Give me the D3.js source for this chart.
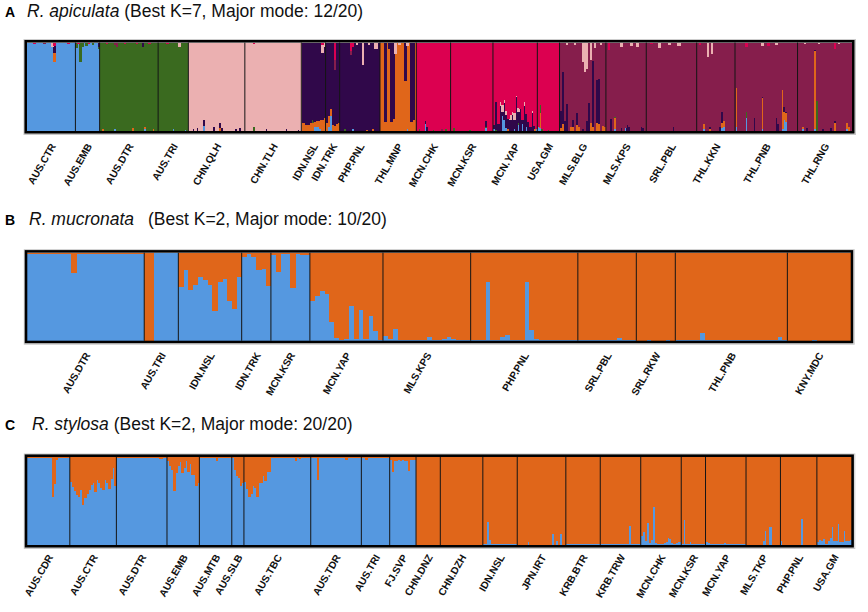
<!DOCTYPE html>
<html>
<head>
<meta charset="utf-8">
<script src="https://cdn.jsdelivr.net/npm/d3@7"></script>
<style>
  body { margin: 0; background: #fff; }
  text { font-family: "Liberation Sans", Arial, Helvetica, sans-serif; }
</style>
</head>
<body>
<div id="chart"></div>
<script>
// ---------------------------------------------------------------------------
// DATA
// ---------------------------------------------------------------------------

// Panel A : R. apiculata, K = 7 (stacking order bottom -> top)
const clustersA = ["blue", "orange", "green", "purple", "maroon", "pink", "red"];
const popsA = ["AUS.CTR", "AUS.EMB", "AUS.DTR", "AUS.TRI", "CHN.QLH", "CHN.TLH",
  "IDN.NSL", "IDN.TRK", "PHP.PNL", "THL.MNP", "MCN.CHK", "MCN.KSR", "MCN.YAP",
  "USA.GM", "MLS.BLG", "MLS.KPS", "SRL.PBL", "THL.KKN", "THL.PNB", "THL.RNG"];
const sizesA = [24, 12, 29, 15, 28, 28, 12, 7, 20, 18, 17, 21, 22, 11, 23, 20, 25, 19, 31, 27];
const baseA = ["blue", "blue", "green", "green", "pink", "pink", "purple", "purple",
  "purple", "orange", "red", "red", "red", "red", "maroon", "maroon", "maroon",
  "maroon", "maroon", "maroon"];
// admixture: [population, individual, cluster, fraction]
const mixA = [
  ["AUS.CTR", 3, "red", 0.02], ["AUS.CTR", 8, "maroon", 0.02], ["AUS.CTR", 12, "pink", 0.05],
  ["AUS.CTR", 13, "orange", 0.10], ["AUS.CTR", 13, "purple", 0.08], ["AUS.CTR", 13, "red", 0.04],
  ["AUS.CTR", 20, "red", 0.02],
  ["AUS.EMB", 0, "green", 0.06], ["AUS.EMB", 1, "red", 0.02], ["AUS.EMB", 2, "green", 0.22],
  ["AUS.EMB", 3, "green", 0.05], ["AUS.EMB", 5, "green", 0.04], ["AUS.EMB", 6, "red", 0.02],
  ["AUS.EMB", 8, "green", 0.03], ["AUS.EMB", 11, "purple", 0.05], ["AUS.EMB", 11, "green", 0.02],
  ["AUS.DTR", 1, "orange", 0.02], ["AUS.DTR", 3, "red", 0.02], ["AUS.DTR", 7, "maroon", 0.03],
  ["AUS.DTR", 7, "blue", 0.02], ["AUS.DTR", 8, "maroon", 0.05], ["AUS.DTR", 12, "red", 0.02],
  ["AUS.DTR", 16, "orange", 0.03], ["AUS.DTR", 18, "red", 0.02], ["AUS.DTR", 21, "purple", 0.05],
  ["AUS.DTR", 22, "blue", 0.02], ["AUS.DTR", 22, "orange", 0.03], ["AUS.DTR", 24, "red", 0.02],
  ["AUS.DTR", 26, "orange", 0.02],
  ["AUS.TRI", 4, "red", 0.02], ["AUS.TRI", 7, "blue", 0.02], ["AUS.TRI", 10, "pink", 0.05],
  ["AUS.TRI", 13, "blue", 0.015],
  ["CHN.QLH", 2, "purple", 0.02], ["CHN.QLH", 4, "purple", 0.03], ["CHN.QLH", 7, "blue", 0.06],
  ["CHN.QLH", 7, "purple", 0.06], ["CHN.QLH", 12, "purple", 0.05], ["CHN.QLH", 15, "purple", 0.06],
  ["CHN.QLH", 15, "orange", 0.03], ["CHN.QLH", 16, "purple", 0.03], ["CHN.QLH", 23, "purple", 0.02],
  ["CHN.QLH", 25, "purple", 0.03],
  ["CHN.TLH", 4, "green", 0.04], ["CHN.TLH", 4, "red", 0.02], ["CHN.TLH", 10, "purple", 0.02],
  ["CHN.TLH", 20, "purple", 0.02], ["CHN.TLH", 26, "purple", 0.015],
  ["IDN.NSL", 0, "orange", 0.09], ["IDN.NSL", 1, "orange", 0.09], ["IDN.NSL", 2, "orange", 0.065],
  ["IDN.NSL", 3, "orange", 0.065], ["IDN.NSL", 4, "orange", 0.09], ["IDN.NSL", 5, "orange", 0.09],
  ["IDN.NSL", 5, "green", 0.03], ["IDN.NSL", 6, "orange", 0.05], ["IDN.NSL", 6, "blue", 0.05],
  ["IDN.NSL", 7, "orange", 0.06], ["IDN.NSL", 7, "blue", 0.05], ["IDN.NSL", 8, "orange", 0.07],
  ["IDN.NSL", 8, "blue", 0.04], ["IDN.NSL", 9, "orange", 0.10], ["IDN.NSL", 9, "blue", 0.02],
  ["IDN.NSL", 10, "orange", 0.12], ["IDN.NSL", 10, "pink", 0.09], ["IDN.NSL", 10, "red", 0.03],
  ["IDN.NSL", 11, "orange", 0.15], ["IDN.NSL", 11, "pink", 0.05],
  ["IDN.TRK", 0, "orange", 0.09], ["IDN.TRK", 1, "orange", 0.12], ["IDN.TRK", 1, "blue", 0.05],
  ["IDN.TRK", 2, "blue", 0.17], ["IDN.TRK", 2, "orange", 0.08], ["IDN.TRK", 3, "orange", 0.07],
  ["IDN.TRK", 4, "orange", 0.06], ["IDN.TRK", 4, "maroon", 0.11], ["IDN.TRK", 4, "red", 0.20],
  ["IDN.TRK", 5, "orange", 0.08], ["IDN.TRK", 6, "orange", 0.09],
  ["PHP.PNL", 2, "green", 0.02], ["PHP.PNL", 5, "red", 0.10], ["PHP.PNL", 5, "maroon", 0.04],
  ["PHP.PNL", 6, "red", 0.05], ["PHP.PNL", 6, "blue", 0.02], ["PHP.PNL", 8, "pink", 0.03],
  ["PHP.PNL", 11, "pink", 0.25], ["PHP.PNL", 13, "orange", 0.015], ["PHP.PNL", 14, "pink", 0.03],
  ["PHP.PNL", 16, "orange", 0.02], ["PHP.PNL", 17, "pink", 0.07], ["PHP.PNL", 18, "pink", 0.07],
  ["THL.MNP", 2, "purple", 0.90], ["THL.MNP", 4, "purple", 0.07], ["THL.MNP", 5, "purple", 0.90],
  ["THL.MNP", 6, "purple", 0.86], ["THL.MNP", 7, "pink", 0.13], ["THL.MNP", 9, "pink", 0.03],
  ["THL.MNP", 12, "purple", 0.43], ["THL.MNP", 13, "pink", 0.04], ["THL.MNP", 13, "blue", 0.02],
  ["THL.MNP", 15, "purple", 0.90], ["THL.MNP", 16, "purple", 0.88],
  ["MCN.CHK", 1, "green", 0.02], ["MCN.CHK", 4, "blue", 0.08], ["MCN.CHK", 4, "purple", 0.03],
  ["MCN.CHK", 5, "purple", 0.04], ["MCN.CHK", 8, "green", 0.015], ["MCN.CHK", 12, "maroon", 0.02],
  ["MCN.CHK", 14, "green", 0.02],
  ["MCN.KSR", 1, "green", 0.03], ["MCN.KSR", 9, "green", 0.01], ["MCN.KSR", 17, "blue", 0.03],
  ["MCN.KSR", 17, "green", 0.02], ["MCN.KSR", 17, "purple", 0.06],
  ["MCN.YAP", 0, "blue", 0.02], ["MCN.YAP", 0, "purple", 0.05], ["MCN.YAP", 1, "purple", 0.32],
  ["MCN.YAP", 1, "green", 0.01], ["MCN.YAP", 2, "purple", 0.08], ["MCN.YAP", 3, "purple", 0.28],
  ["MCN.YAP", 3, "pink", 0.05], ["MCN.YAP", 4, "blue", 0.17], ["MCN.YAP", 4, "purple", 0.05],
  ["MCN.YAP", 4, "pink", 0.07], ["MCN.YAP", 5, "blue", 0.12], ["MCN.YAP", 5, "purple", 0.20],
  ["MCN.YAP", 5, "pink", 0.03], ["MCN.YAP", 6, "blue", 0.03], ["MCN.YAP", 6, "purple", 0.15],
  ["MCN.YAP", 6, "pink", 0.05], ["MCN.YAP", 7, "orange", 0.02], ["MCN.YAP", 7, "purple", 0.12],
  ["MCN.YAP", 8, "purple", 0.12], ["MCN.YAP", 8, "pink", 0.06], ["MCN.YAP", 9, "purple", 0.18],
  ["MCN.YAP", 9, "pink", 0.04], ["MCN.YAP", 10, "blue", 0.02], ["MCN.YAP", 10, "purple", 0.10],
  ["MCN.YAP", 10, "pink", 0.08], ["MCN.YAP", 11, "purple", 0.38], ["MCN.YAP", 11, "pink", 0.02],
  ["MCN.YAP", 12, "blue", 0.07], ["MCN.YAP", 12, "green", 0.02], ["MCN.YAP", 12, "purple", 0.12],
  ["MCN.YAP", 12, "pink", 0.05], ["MCN.YAP", 13, "purple", 0.25], ["MCN.YAP", 14, "blue", 0.08],
  ["MCN.YAP", 14, "purple", 0.05], ["MCN.YAP", 15, "purple", 0.28], ["MCN.YAP", 15, "pink", 0.05],
  ["MCN.YAP", 16, "blue", 0.05], ["MCN.YAP", 16, "purple", 0.14], ["MCN.YAP", 17, "purple", 0.10],
  ["MCN.YAP", 18, "purple", 0.05], ["MCN.YAP", 19, "purple", 0.20], ["MCN.YAP", 19, "pink", 0.03],
  ["MCN.YAP", 20, "orange", 0.02], ["MCN.YAP", 20, "purple", 0.04], ["MCN.YAP", 21, "blue", 0.02],
  ["USA.GM", 0, "blue", 0.04], ["USA.GM", 1, "blue", 0.03], ["USA.GM", 1, "orange", 0.17],
  ["USA.GM", 1, "green", 0.09], ["USA.GM", 2, "green", 0.02], ["USA.GM", 5, "green", 0.01],
  ["MLS.BLG", 0, "orange", 0.03], ["MLS.BLG", 0, "purple", 0.20], ["MLS.BLG", 1, "orange", 0.08],
  ["MLS.BLG", 1, "purple", 0.59], ["MLS.BLG", 2, "purple", 0.11], ["MLS.BLG", 3, "purple", 0.30],
  ["MLS.BLG", 3, "pink", 0.03], ["MLS.BLG", 5, "orange", 0.04], ["MLS.BLG", 6, "orange", 0.04],
  ["MLS.BLG", 6, "purple", 0.08], ["MLS.BLG", 7, "pink", 0.03], ["MLS.BLG", 8, "orange", 0.07],
  ["MLS.BLG", 8, "purple", 0.13], ["MLS.BLG", 9, "orange", 0.05], ["MLS.BLG", 11, "purple", 0.02],
  ["MLS.BLG", 11, "pink", 0.22], ["MLS.BLG", 12, "pink", 0.33], ["MLS.BLG", 13, "purple", 0.11],
  ["MLS.BLG", 13, "pink", 0.30], ["MLS.BLG", 14, "purple", 0.32], ["MLS.BLG", 15, "orange", 0.09],
  ["MLS.BLG", 15, "pink", 0.20], ["MLS.BLG", 16, "orange", 0.05], ["MLS.BLG", 16, "purple", 0.74],
  ["MLS.BLG", 17, "pink", 0.06], ["MLS.BLG", 18, "orange", 0.09], ["MLS.BLG", 18, "purple", 0.49],
  ["MLS.BLG", 19, "orange", 0.08], ["MLS.BLG", 19, "purple", 0.51], ["MLS.BLG", 20, "pink", 0.03],
  ["MLS.BLG", 21, "orange", 0.06], ["MLS.BLG", 22, "orange", 0.05],
  ["MLS.KPS", 1, "red", 0.08], ["MLS.KPS", 2, "purple", 0.14], ["MLS.KPS", 4, "blue", 0.02],
  ["MLS.KPS", 4, "orange", 0.13], ["MLS.KPS", 4, "green", 0.01], ["MLS.KPS", 7, "purple", 0.03],
  ["MLS.KPS", 7, "pink", 0.05], ["MLS.KPS", 9, "blue", 0.03], ["MLS.KPS", 10, "purple", 0.07],
  ["MLS.KPS", 11, "purple", 0.04], ["MLS.KPS", 12, "pink", 0.04], ["MLS.KPS", 15, "pink", 0.05],
  ["MLS.KPS", 17, "purple", 0.05], ["MLS.KPS", 18, "purple", 0.03],
  ["SRL.PBL", 2, "red", 0.02], ["SRL.PBL", 6, "pink", 0.06], ["SRL.PBL", 11, "pink", 0.03],
  ["SRL.PBL", 13, "purple", 0.05], ["SRL.PBL", 15, "pink", 0.04], ["SRL.PBL", 16, "pink", 0.04],
  ["THL.KKN", 1, "red", 0.03], ["THL.KKN", 3, "blue", 0.02], ["THL.KKN", 3, "orange", 0.06],
  ["THL.KKN", 5, "pink", 0.16], ["THL.KKN", 6, "purple", 0.03], ["THL.KKN", 6, "orange", 0.02],
  ["THL.KKN", 7, "pink", 0.13], ["THL.KKN", 11, "purple", 0.05], ["THL.KKN", 12, "blue", 0.03],
  ["THL.KKN", 12, "orange", 0.06], ["THL.KKN", 12, "purple", 0.12], ["THL.KKN", 13, "blue", 0.04],
  ["THL.KKN", 13, "orange", 0.07],
  ["THL.PNB", 0, "blue", 0.05], ["THL.PNB", 0, "orange", 0.44], ["THL.PNB", 5, "blue", 0.15],
  ["THL.PNB", 5, "green", 0.06], ["THL.PNB", 5, "red", 0.05], ["THL.PNB", 9, "purple", 0.15],
  ["THL.PNB", 13, "blue", 0.02], ["THL.PNB", 13, "orange", 0.35], ["THL.PNB", 13, "purple", 0.01],
  ["THL.PNB", 13, "pink", 0.04], ["THL.PNB", 16, "red", 0.04], ["THL.PNB", 20, "purple", 0.15],
  ["THL.PNB", 20, "pink", 0.03], ["THL.PNB", 21, "purple", 0.08], ["THL.PNB", 23, "blue", 0.02],
  ["THL.PNB", 23, "orange", 0.44], ["THL.PNB", 24, "blue", 0.12], ["THL.PNB", 24, "orange", 0.10],
  ["THL.PNB", 24, "purple", 0.05], ["THL.PNB", 25, "blue", 0.10], ["THL.PNB", 25, "orange", 0.10],
  ["THL.PNB", 25, "purple", 0.01],
  ["THL.RNG", 2, "blue", 0.02], ["THL.RNG", 2, "orange", 0.03], ["THL.RNG", 3, "pink", 0.02],
  ["THL.RNG", 4, "purple", 0.03], ["THL.RNG", 8, "blue", 0.02], ["THL.RNG", 8, "orange", 0.88],
  ["THL.RNG", 8, "purple", 0.015], ["THL.RNG", 9, "green", 0.34], ["THL.RNG", 10, "pink", 0.02],
  ["THL.RNG", 12, "purple", 0.02], ["THL.RNG", 16, "purple", 0.03], ["THL.RNG", 18, "orange", 0.09],
  ["THL.RNG", 18, "purple", 0.02], ["THL.RNG", 18, "red", 0.07], ["THL.RNG", 20, "pink", 0.02],
  ["THL.RNG", 24, "blue", 0.02], ["THL.RNG", 24, "orange", 0.07], ["THL.RNG", 25, "orange", 0.04]
];

// Panel B : R. mucronata, K = 2 — blue membership of each individual
const popsB = ["AUS.DTR", "AUS.TRI", "IDN.NSL", "IDN.TRK", "MCN.KSR", "MCN.YAP",
  "MLS.KPS", "PHP.PNL", "SRL.PBL", "SRL.RKW", "THL.PNB", "KNY.MDC"];
const blueB = [
  [0.99, 0.99, 0.99, 0.99, 0.99, 0.99, 0.99, 0.99, 0.99, 0.77, 0.99, 0.99, 0.985, 0.985, 0.99, 0.99,
   0.99, 0.99, 0.99, 0.99, 0.99, 0.99, 0.99, 0.99],
  [0, 0, 1, 1, 1, 1, 1],
  [0.61, 0.80, 0.58, 0.63, 0.72, 0.69, 0.63, 0.34, 0.67, 0.70, 0.45, 0.36, 0.72],
  [0.95, 0.99, 0.95, 0.80, 0.81, 0.62],
  [0.97, 0.78, 0.99, 0.99, 0.60, 0.99, 0.97, 0.97],
  [0.45, 0.51, 0.56, 0.53, 0.21, 0.03, 0.01, 0.02, 0.39, 0.02, 0.35, 0.02, 0.28, 0.11, 0.01],
  [0.05, 0.015, 0.13, 0.005, 0.01, 0.005, 0.005, 0.005, 0.005, 0.04, 0.01, 0.01, 0.02, 0.04, 0.02,
   0.01, 0.01, 0.01],
  [0.005, 0.005, 0.005, 0.67, 0.005, 0.005, 0.04, 0.065, 0.01, 0.005, 0.005, 0.67, 0.12, 0.015,
   0.01, 0.005, 0.005, 0.005, 0.005, 0.005, 0.005, 0.005],
  [0.005, 0.005, 0.005, 0.01, 0.005, 0.005, 0.005, 0.005, 0.03, 0.01, 0.005, 0.005],
  [0, 0, 0.005, 0, 0, 0, 0.005, 0],
  [0.005, 0.005, 0.01, 0.005, 0.005, 0.085, 0.01, 0.005, 0.005, 0.005, 0.005, 0.005, 0.005, 0.005,
   0.005, 0.01, 0.005, 0.005, 0.005, 0.005, 0.005, 0.04, 0.005],
  [0, 0, 0, 0, 0, 0.01, 0, 0, 0, 0, 0, 0, 0]
];

// Panel C : R. stylosa, K = 2 — blue membership of each individual
const popsC = ["AUS.CDR", "AUS.CTR", "AUS.DTR", "AUS.EMB", "AUS.MTB", "AUS.SLB", "AUS.TBC",
  "AUS.TDR", "AUS.TRI", "FJ.SVP", "CHN.DNZ", "CHN.DZH", "IDN.NSL", "JPN.IRT", "KRB.BTR",
  "KRB.TRW", "MCN.CHK", "MCN.KSR", "MCN.YAP", "MLS.TKP", "PHP.PNL", "USA.GM"];
const blueC = [
  [0.99, 0.99, 0.99, 0.99, 0.99, 0.99, 0.99, 0.99, 0.99, 0.99, 0.99, 0.99, 0.54, 0.69, 0.97, 0.99,
   0.99, 0.99, 0.99, 0.99, 0.99],
  [0.72, 0.66, 0.61, 0.57, 0.55, 0.62, 0.45, 0.53, 0.58, 0.62, 0.68, 0.70, 0.60, 0.74, 0.70, 0.65,
   0.63, 0.74, 0.71, 0.64, 0.75, 0.87, 0.67],
  [0.99, 0.99, 0.99, 0.985, 0.99, 0.99, 0.99, 0.99, 0.99, 0.99, 0.985, 0.99, 0.99, 0.99, 0.99, 0.99,
   0.99, 0.99, 0.99, 0.99, 0.99, 0.98, 0.98, 0.99, 0.99],
  [0.96, 0.90, 0.85, 0.61, 0.82, 0.90, 0.94, 0.82, 0.88, 0.96, 0.83, 0.92, 0.80, 0.80, 0.67, 0.70],
  [0.99, 0.99, 0.99, 0.99, 0.99, 0.99, 0.99, 0.99, 0.96, 0.99, 0.99, 0.99, 0.99, 0.99, 0.99, 0.99],
  [0.99, 0.85, 0.78, 0.76, 0.67, 0.70],
  [0.72, 0.64, 0.55, 0.58, 0.67, 0.65, 0.54, 0.70, 0.70, 0.78, 0.73, 0.83, 0.83, 0.99, 0.99, 0.99,
   0.99, 0.99, 0.99, 0.99, 0.99, 0.99, 0.99, 0.99, 0.99, 0.95, 0.99, 0.98, 0.99, 0.99, 0.99, 0.99,
   0.99],
  [0.99, 0.99, 0.99, 0.74, 0.99, 0.99, 0.99, 0.99, 0.99, 0.99, 0.99, 0.99, 0.99, 0.99, 0.99, 0.99,
   0.99, 0.97, 0.99, 0.99, 0.99, 0.99, 0.99, 0.99, 0.99],
  [0.99, 0.99, 0.97, 0.99, 0.99, 0.99, 0.99, 0.99, 0.99, 0.99, 0.99, 0.99, 0.99, 0.99],
  [0.97, 0.83, 0.95, 0.96, 0.97, 0.96, 0.97, 0.96, 0.96, 0.84, 0.97, 0.97, 0.97],
  [0, 0, 0, 0, 0, 0, 0, 0, 0, 0, 0, 0],
  [0, 0, 0, 0.005, 0, 0, 0, 0, 0, 0, 0, 0, 0, 0, 0.005, 0, 0, 0, 0, 0, 0],
  [0.01, 0.01, 0.26, 0.06, 0.01, 0.01, 0.01, 0.01, 0.01, 0.015, 0.015, 0.015, 0.015, 0.015, 0.01,
   0.01, 0.01],
  [0.005, 0.005, 0.005, 0.005, 0.005, 0.03, 0.005, 0.005, 0.005, 0.005, 0.005, 0.005, 0.005, 0.005,
   0.005, 0.005, 0.005, 0.13, 0.005, 0.04, 0.005, 0.12, 0.005, 0.005],
  [0.01, 0.01, 0.01, 0.01, 0.01, 0.01, 0.01, 0.01, 0.01, 0.01, 0.01, 0.01, 0.01, 0.01, 0.01, 0.01,
   0.01],
  [0.01, 0.01, 0.01, 0.01, 0.01, 0.01, 0.01, 0.01, 0.01, 0.01, 0.01, 0.01, 0.01, 0.01, 0.22, 0.01,
   0.01, 0.01, 0.01, 0.01],
  [0.10, 0.15, 0.04, 0.25, 0.02, 0.06, 0.43, 0.02, 0.01, 0.01, 0.01, 0.02, 0.035, 0.08, 0.065, 0.02,
   0.01, 0.02, 0.035, 0.035],
  [0.01, 0.28, 0.01, 0.01, 0.03, 0.01, 0.01, 0.01, 0.01, 0.01, 0.01, 0.01],
  [0.03, 0.02, 0.015, 0.01, 0.01, 0.01, 0.01, 0.015, 0.01, 0.02, 0.01, 0.01, 0.01, 0.01, 0.01, 0.01,
   0.01, 0.01, 0.01, 0.01],
  [0.005, 0.005, 0.005, 0.005, 0.005, 0.005, 0.005, 0.005, 0.05, 0.16, 0.005, 0.21, 0.21, 0.005,
   0.005, 0.005, 0.005],
  [0.05, 0.005, 0.005, 0.005, 0.005, 0.005, 0.005, 0.005, 0.005, 0.005, 0.30, 0.005, 0.005, 0.005,
   0.005, 0.005, 0.005, 0.005],
  [0.03, 0.06, 0.04, 0.065, 0.01, 0.045, 0.075, 0.20, 0.04, 0.04, 0.24, 0.03, 0.03, 0.16, 0.04,
   0.045, 0.06]
];

const colours = {
  blue: "#5598e0", orange: "#e0661a", green: "#3a6a1f", purple: "#30084a",
  maroon: "#861e4c", pink: "#ebb0b1", red: "#dc0050"
};

// ---------------------------------------------------------------------------
// BUILD ROWS
// ---------------------------------------------------------------------------
const rowsA = [];
const startA = {};
popsA.forEach((p, pi) => {
  startA[p] = rowsA.length;
  for (let i = 0; i < sizesA[pi]; i++) {
    const r = { pop: p, base: baseA[pi] };
    clustersA.forEach(k => r[k] = 0);
    rowsA.push(r);
  }
});
mixA.forEach(([p, i, k, v]) => { rowsA[startA[p] + i][k] += v; });
rowsA.forEach(r => {
  const other = d3.sum(clustersA.filter(k => k !== r.base), k => r[k]);
  r[r.base] = 1 - other;
});

function twoClusterRows(blue) {
  const rows = [];
  blue.forEach(arr => arr.forEach(v => rows.push({ blue: v, orange: 1 - v })));
  return rows;
}
const rowsB = twoClusterRows(blueB);
const rowsC = twoClusterRows(blueC);

// ---------------------------------------------------------------------------
// DRAW
// ---------------------------------------------------------------------------
const svg = d3.select("#chart").append("svg")
  .attr("width", 868)
  .attr("height", 612);

function panel(opt) {
  const { rows, keys, sizes, pops, left, right, top, bottom, labelY } = opt;
  const n = rows.length;
  const x = d3.scaleLinear().domain([0, n]).range([left, right]);
  const y = d3.scaleLinear().domain([0, 1]).range([bottom, top]);
  const series = d3.stack().keys(keys)(rows);

  const g = svg.append("g");

  // grey halo behind the frame
  g.append("rect")
    .attr("x", left - 3).attr("y", top - 3)
    .attr("width", right - left + 6.5).attr("height", bottom - top + 6.5)
    .attr("fill", "none").attr("stroke", "#c8c8c8").attr("stroke-width", 1);

  g.selectAll(".layer")
    .data(series)
    .join("g")
    .attr("class", "layer")
    .attr("fill", d => colours[d.key])
    .attr("shape-rendering", "crispEdges")
    .selectAll("rect")
    .data(d => d.map((s, i) => ({ i, y0: s[0], y1: s[1] })).filter(s => s.y1 - s.y0 > 0.0005))
    .join("rect")
    .attr("x", d => x(d.i))
    .attr("width", d => x(d.i + 1) - x(d.i) + 0.5)
    .attr("y", d => y(d.y1))
    .attr("height", d => y(d.y0) - y(d.y1));

  // population separators
  const cum = d3.cumsum(sizes);
  g.selectAll(".sep")
    .data(Array.from(cum).slice(0, -1))
    .join("line")
    .attr("class", "sep")
    .attr("x1", d => x(d)).attr("x2", d => x(d))
    .attr("y1", top).attr("y2", bottom)
    .attr("stroke", "#151515").attr("stroke-width", 1);

  // frame
  g.append("rect")
    .attr("x", left - 1.3).attr("y", top - 1.3)
    .attr("width", right - left + 2.6).attr("height", bottom - top + 2.6)
    .attr("fill", "none").attr("stroke", "#000").attr("stroke-width", 2.6);

  // population labels
  g.selectAll(".lab")
    .data(pops)
    .join("text")
    .attr("class", "lab")
    .attr("transform", (d, i) => {
      const mid = x(cum[i] - sizes[i] / 2) + 5;
      return `translate(${mid},${labelY}) rotate(-60)`;
    })
    .attr("text-anchor", "end")
    .attr("font-size", 10.2)
    .attr("font-weight", "bold")
    .attr("fill", "#111")
    .text(d => d);
}

panel({ rows: rowsA, keys: clustersA, sizes: sizesA, pops: popsA,
  left: 27, right: 852, top: 42.6, bottom: 131, labelY: 146 });
panel({ rows: rowsB, keys: ["blue", "orange"], sizes: blueB.map(a => a.length), pops: popsB,
  left: 27.3, right: 850.7, top: 252.7, bottom: 340.7, labelY: 355 });
panel({ rows: rowsC, keys: ["blue", "orange"], sizes: blueC.map(a => a.length), pops: popsC,
  left: 27.3, right: 851.3, top: 457, bottom: 545, labelY: 557 });

// titles
function title(letter, ly, parts) {
  svg.append("text")
    .attr("x", 5).attr("y", ly)
    .attr("font-size", 14).attr("font-weight", "bold")
    .text(letter);
  const t = svg.append("text").attr("y", ly).attr("font-size", 17.5).attr("fill", "#111");
  parts.forEach(p => {
    const s = t.append("tspan").text(p.text);
    if (p.x !== undefined) s.attr("x", p.x);
    if (p.italic) s.attr("font-style", "italic");
  });
}
title("A", 16.7, [{ text: "R. apiculata", italic: true, x: 27 },
  { text: " (Best K=7, Major mode: 12/20)" }]);
title("B", 225, [{ text: "R. mucronata", italic: true, x: 29 },
  { text: "(Best K=2, Major mode: 10/20)", x: 148 }]);
title("C", 430, [{ text: "R. stylosa", italic: true, x: 32 },
  { text: " (Best K=2, Major mode: 20/20)" }]);
</script>
</body>
</html>
